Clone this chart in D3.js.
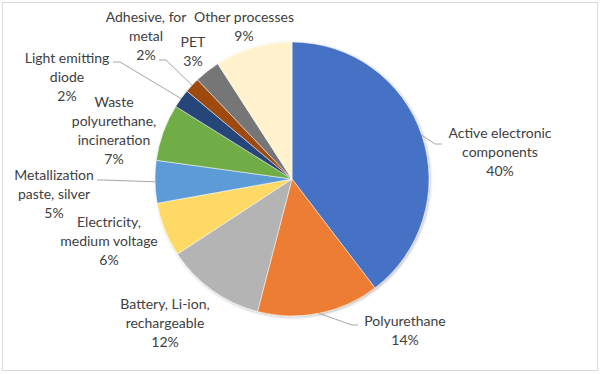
<!DOCTYPE html>
<html>
<head>
<meta charset="utf-8">
<script src="https://cdn.jsdelivr.net/npm/d3@7"></script>
<style>
html,body{margin:0;padding:0;background:#fff;}
svg{display:block;}
</style>
</head>
<body>
<svg id="chart" width="600" height="374"></svg>
<script>
// ---- data ----
const categories = [
  "Active electronic components",
  "Polyurethane",
  "Battery, Li-ion, rechargeable",
  "Electricity, medium voltage",
  "Metallization paste, silver",
  "Waste polyurethane, incineration",
  "Light emitting diode",
  "Adhesive, for metal",
  "PET",
  "Other processes"
];
const values = [39.6, 14.4, 11.7, 6.4, 5.0, 6.7, 2.2, 1.8, 3.0, 9.1];
const labelLines = [
  ["Active electronic", "components"],
  ["Polyurethane"],
  ["Battery, Li-ion,", "rechargeable"],
  ["Electricity,", "medium voltage"],
  ["Metallization", "paste, silver"],
  ["Waste", "polyurethane,", "incineration"],
  ["Light emitting", "diode"],
  ["Adhesive, for", "metal"],
  ["PET"],
  ["Other processes"]
];
const colors = ["#4472C4","#ED7D31","#B4B4B4","#FFD966","#5B9BD5","#70AD47","#264478","#9E480E","#767676","#FFF2CC"];

// ---- layout (label anchor: center x, first baseline y; leader elbow & end) ----
const cx = 292, cy = 179, R = 137;
const labelPos = [
  {x: 500, y: 138, leader: [[435,144],[442,144]]},
  {x: 405, y: 326, leader: [[352,325],[358,325]]},
  {x: 165, y: 309},
  {x: 109, y: 227},
  {x: 54,  y: 180, leader: [[104,180],[97,180]]},
  {x: 114, y: 107},
  {x: 67,  y: 63,  leader: [[120,62],[113,62]]},
  {x: 146, y: 22,  leader: [[166,60],[159,60]]},
  {x: 193, y: 47},
  {x: 244, y: 22}
];
const lineH = 19;

const svg = d3.select("#chart");

// chart border
svg.append("rect").attr("x", 2.5).attr("y", 2.5).attr("width", 595).attr("height", 368)
  .attr("fill", "#fff").attr("stroke", "#D9D9D9").attr("stroke-width", 1);

const defs = svg.append("defs");
const f = defs.append("filter").attr("id","sh").attr("x","-20%").attr("y","-20%").attr("width","140%").attr("height","140%");
f.append("feGaussianBlur").attr("in","SourceAlpha").attr("stdDeviation",1.5);
f.append("feOffset").attr("dx",0.5).attr("dy",0.5).attr("result","b");
f.append("feComponentTransfer").append("feFuncA").attr("type","linear").attr("slope",0.3);
const m = f.append("feMerge"); m.append("feMergeNode"); m.append("feMergeNode").attr("in","SourceGraphic");

const pie = d3.pie().sort(null).value(d => d);
const arcs = pie(values);
const arc = d3.arc().innerRadius(0).outerRadius(R);

const g = svg.append("g").attr("transform", `translate(${cx},${cy})`);
g.append("g").attr("filter","url(#sh)")
  .selectAll("path").data(arcs).join("path")
  .attr("d", arc)
  .attr("fill", (d,i) => colors[i])
  .attr("stroke", "#fff").attr("stroke-width", 0.5);

// leader lines
const leaderG = svg.append("g");
arcs.forEach((d,i) => {
  const lp = labelPos[i];
  if (!lp.leader) return;
  const a = (d.startAngle + d.endAngle) / 2;
  const start = [cx + R * Math.sin(a), cy - R * Math.cos(a)];
  leaderG.append("path")
    .attr("d", d3.line()([start, ...lp.leader]))
    .attr("fill","none").attr("stroke","#A6A6A6").attr("stroke-width",1);
});

// labels
const lg = svg.append("g")
  .attr("font-family", "Lato, 'Open Sans', sans-serif")
  .attr("font-size", 14)
  .attr("fill", "#404040")
  .attr("text-anchor", "middle");
arcs.forEach((d,i) => {
  const lp = labelPos[i];
  const lines = labelLines[i].concat([Math.round(values[i]) + "%"]);
  const t = lg.append("text").attr("x", lp.x).attr("y", lp.y);
  lines.forEach((s,k) => {
    t.append("tspan").attr("x", lp.x).attr("y", lp.y + k*lineH).text(s);
  });
});
</script>
</body>
</html>
